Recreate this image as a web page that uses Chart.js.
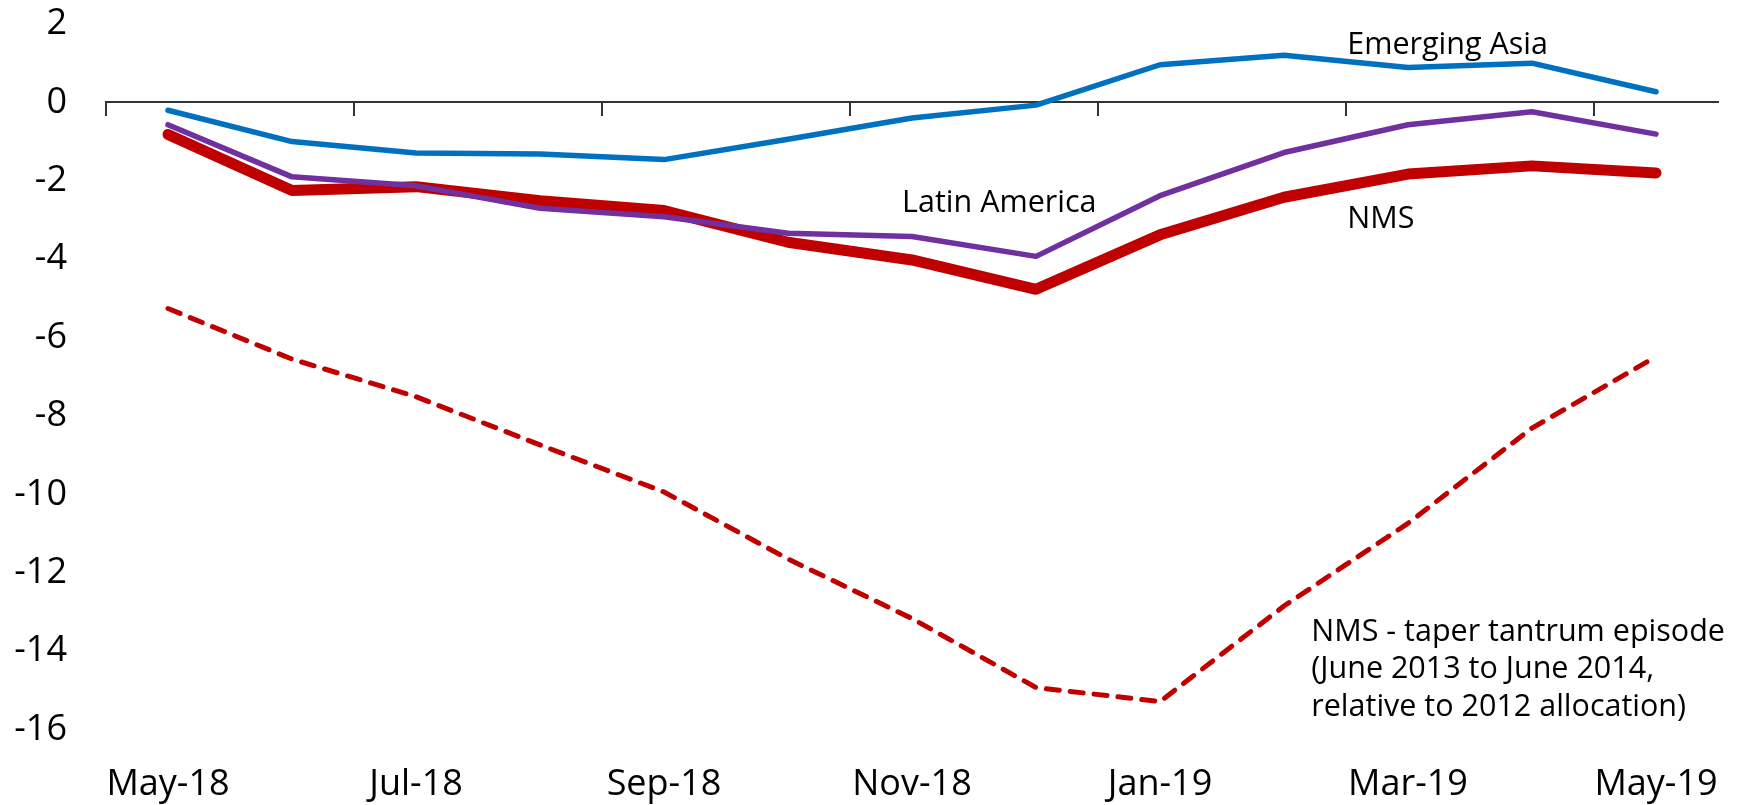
<!DOCTYPE html>
<html lang="en">
<head>
    <meta charset="UTF-8">
    <title>Portfolio allocation change</title>
    <script src="https://cdn.jsdelivr.net/npm/chart.js"></script>
    <style>
        html, body { margin: 0; padding: 0; background: #fff; }
        #wrap { width: 1754px; height: 805px; }
    </style>
</head>
<body>
<div id="wrap">
    <canvas id="flowChart" width="1754" height="805"></canvas>
</div>
<script>
    // months on the category axis
    var months = ["May-18", "Jun-18", "Jul-18", "Aug-18", "Sep-18", "Oct-18", "Nov-18",
                  "Dec-18", "Jan-19", "Feb-19", "Mar-19", "Apr-19", "May-19"];

    // series values
    var emergingAsia = [-0.20, -1.00, -1.29, -1.32, -1.46, -0.94, -0.40, -0.07, 0.96, 1.20, 0.89, 1.00, 0.27];
    var latinAmerica = [-0.57, -1.90, -2.13, -2.70, -2.92, -3.34, -3.42, -3.93, -2.38, -1.28, -0.57, -0.24, -0.81];
    var nms          = [-0.82, -2.25, -2.15, -2.51, -2.76, -3.57, -4.02, -4.77, -3.38, -2.42, -1.83, -1.62, -1.80];
    var nmsTaper     = [-5.26, -6.55, -7.51, -8.74, -9.94, -11.65, -13.17, -14.93, -15.29, -12.85, -10.74, -8.31, -6.49];

    var yTicks = [2, 0, -2, -4, -6, -8, -10, -12, -14, -16];

    // text labels placed in data units: [text lines, category index, value]
    var seriesLabels = [
        [["Emerging Asia"], 9.51, 1.24],
        [["Latin America"], 5.92, -2.79],
        [["NMS"], 9.51, -3.20],
        [["NMS - taper tantrum episode", "(June 2013 to June 2014,", "relative to 2012 allocation)"], 9.22, -13.74]
    ];

    var FONT = '"Open Sans", "Noto Sans", sans-serif';

    // writes the series names next to the lines
    var labelPlugin = {
        id: "seriesLabels",
        afterDatasetsDraw: function (chart) {
            var ctx = chart.ctx;
            var xs = chart.scales.x;
            var ys = chart.scales.y;
            ctx.save();
            ctx.font = "30.5px " + FONT;
            ctx.fillStyle = "#000";
            ctx.textAlign = "left";
            ctx.textBaseline = "alphabetic";
            seriesLabels.forEach(function (lab) {
                var px = xs.getPixelForValue(lab[1]);
                var py = ys.getPixelForValue(lab[2]);
                lab[0].forEach(function (line, i) {
                    ctx.fillText(line, px, py + i * 37.5);
                });
            });
            ctx.restore();
        }
    };

    new Chart(document.getElementById("flowChart"), {
        type: "line",
        data: {
            labels: months,
            datasets: [
                {
                    label: "Emerging Asia",
                    data: emergingAsia,
                    borderColor: "#0070C0",
                    borderWidth: 5.5
                },
                {
                    label: "Latin America",
                    data: latinAmerica,
                    borderColor: "#7030A0",
                    borderWidth: 5.5
                },
                {
                    label: "NMS",
                    data: nms,
                    borderColor: "#C00000",
                    borderWidth: 11
                },
                {
                    label: "NMS - taper tantrum episode",
                    data: nmsTaper,
                    borderColor: "#C00000",
                    borderWidth: 5,
                    borderDash: [13, 11]
                }
            ].map(function (ds) {
                ds.xAxisID = "x";
                ds.yAxisID = "y";
                ds.fill = false;
                ds.tension = 0;
                ds.pointRadius = 0;
                ds.borderCapStyle = "round";
                ds.borderJoinStyle = "round";
                return ds;
            })
        },
        options: {
            responsive: false,
            animation: false,
            layout: { padding: { top: 24, right: 36, bottom: 0, left: 0 } },
            plugins: {
                legend: { display: false },
                tooltip: { enabled: false }
            },
            scales: {
                x: {
                    type: "category",
                    position: "bottom",
                    offset: true,
                    grid: { display: false },
                    border: { display: false },
                    ticks: {
                        autoSkip: false,
                        maxRotation: 0,
                        padding: 4,
                        color: "#000",
                        font: { family: FONT, size: 36 },
                        callback: function (val, idx) {
                            return idx % 2 === 0 ? this.getLabelForValue(val) : "";
                        }
                    },
                    afterFit: function (scale) { scale.height = 54; }
                },
                xZero: {
                    type: "category",
                    axis: "x",
                    labels: months,
                    position: { y: 0 },
                    offset: true,
                    grid: {
                        offset: true,
                        drawOnChartArea: false,
                        drawTicks: true,
                        tickLength: 13,
                        lineWidth: 2,
                        color: function (c) { return c.index % 2 === 0 ? "#333" : "rgba(0,0,0,0)"; }
                    },
                    border: { display: true, color: "#333", width: 2 },
                    ticks: { display: false },
                    afterFit: function (scale) { scale.height = 0; }
                },
                y: {
                    min: -16.55,
                    max: 2,
                    // invisible tick marks only to keep the labels away from the plot
                    grid: {
                        display: true,
                        drawOnChartArea: false,
                        drawTicks: true,
                        tickLength: 39,
                        color: "rgba(0,0,0,0)"
                    },
                    border: { display: false },
                    ticks: {
                        padding: 0,
                        color: "#000",
                        font: { family: FONT, size: 36 }
                    },
                    afterBuildTicks: function (scale) {
                        scale.ticks = yTicks.map(function (v) { return { value: v }; });
                    },
                    afterFit: function (scale) { scale.width = 106; }
                }
            }
        },
        plugins: [labelPlugin]
    });
</script>
</body>
</html>
